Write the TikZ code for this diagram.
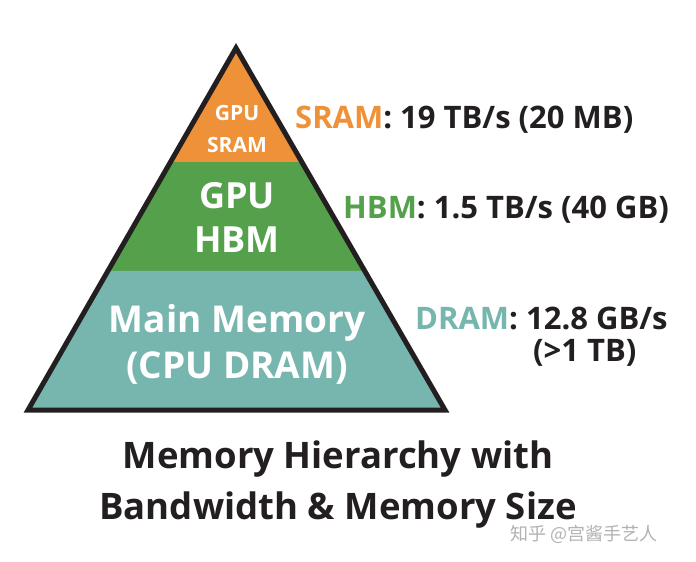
\documentclass[tikz,border=0pt]{standalone}
\usepackage{fontspec}
\setmainfont{Open Sans}
\newfontfamily\cjk{Noto Sans CJK SC}
\usetikzlibrary{calc}
\definecolor{sramc}{HTML}{EE9138}
\definecolor{hbmc}{HTML}{55A04B}
\definecolor{dramc}{HTML}{76B6AF}
\definecolor{txt}{HTML}{231F20}
\begin{document}
\begin{tikzpicture}[x=1pt,y=-1pt,
  inlabel/.style={text=white,anchor=base,inner sep=0pt},
  sidelabel/.style={text=txt,anchor=base west,inner sep=0pt,font=\bfseries\fontsize{31}{36}\selectfont},
  titlelabel/.style={text=txt,anchor=base,inner sep=0pt,font=\bfseries\fontsize{36.5}{44}\selectfont}]
\useasboundingbox[fill=white] (0,0) rectangle (696,562);
\coordinate (A) at (236,48);
\coordinate (L) at (28,410);
\coordinate (R) at (445,410);
\coordinate (L1) at ($(A)!0.315!(L)$);
\coordinate (R1) at ($(A)!0.315!(R)$);
\coordinate (L2) at ($(A)!0.616!(L)$);
\coordinate (R2) at ($(A)!0.616!(R)$);
\fill[sramc] (A) -- (R1) -- (L1) -- cycle;
\fill[hbmc] (L1) -- (R1) -- (R2) -- (L2) -- cycle;
\fill[dramc] (L2) -- (R2) -- (R) -- (L) -- cycle;
\draw[line width=5pt,line join=miter,txt] (A) -- (R) -- (L) -- cycle;
% inside texts
\node[inlabel,font=\bfseries\fontsize{21}{26}\selectfont] (t1a) at (237,120) {GPU};
\node[inlabel,font=\bfseries\fontsize{21}{26}\selectfont] (t1b) at (237,152) {SRAM};
\node[inlabel,font=\bfseries\fontsize{36}{44}\selectfont] (t2a) at (237,208) {GPU};
\node[inlabel,font=\bfseries\fontsize{36}{44}\selectfont] (t2b) at (237,252) {HBM};
\node[inlabel,font=\bfseries\fontsize{37}{44}\selectfont] (t3a) at (237,332) {Main Memory};
\node[inlabel,font=\bfseries\fontsize{37}{44}\selectfont] (t3b) at (237,378) {(CPU DRAM)};
% side texts
\node[sidelabel] (s1) at (295,128) {\textcolor{sramc}{SRAM}: 19 TB/s (20 MB)};
\node[sidelabel] (s2) at (343,218) {\textcolor{hbmc}{HBM}: 1.5 TB/s (40 GB)};
\node[sidelabel] (s3) at (415,329) {\textcolor{dramc}{DRAM}: 12.8 GB/s};
\node[sidelabel] (s4) at (533,361) {(>1 TB)};
% title
\node[titlelabel] (ti1) at (338,468) {Memory Hierarchy with};
\node[titlelabel] (ti2) at (338,519) {Bandwidth \& Memory Size};
% watermark
\node[anchor=base west,inner sep=0pt,text=black!30,font=\cjk\fontsize{18}{20}\selectfont] (wm) at (510,540) {知乎 @宫酱手艺人};
\end{tikzpicture}
\end{document}
